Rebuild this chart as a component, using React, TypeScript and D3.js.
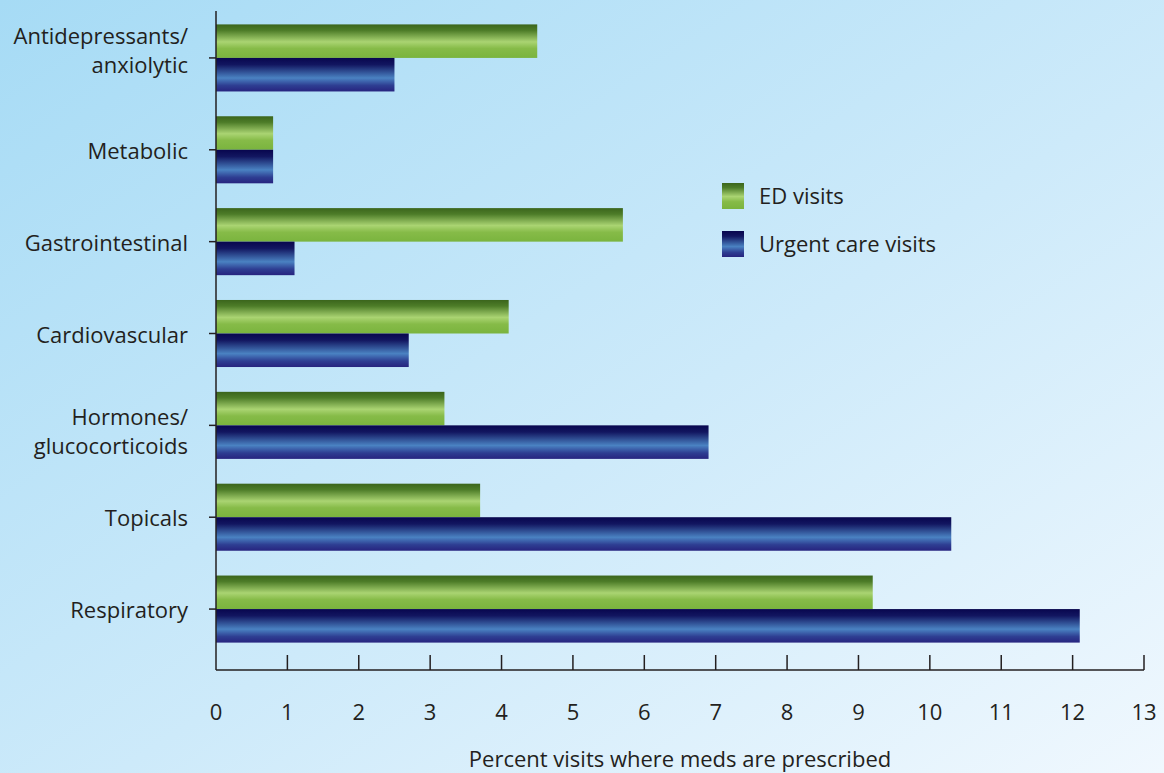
import React, { useEffect, useRef } from 'react';
import * as d3 from 'd3';

// categories, top to bottom (labels may wrap onto two lines)
const categories = [
  'Antidepressants/\nanxiolytic',
  'Metabolic',
  'Gastrointestinal',
  'Cardiovascular',
  'Hormones/\nglucocorticoids',
  'Topicals',
  'Respiratory',
];
const edVisits = [4.5, 0.8, 5.7, 4.1, 3.2, 3.7, 9.2];
const urgentCareVisits = [2.5, 0.8, 1.1, 2.7, 6.9, 10.3, 12.1];
const xTicks = [0, 1, 2, 3, 4, 5, 6, 7, 8, 9, 10, 11, 12, 13];
const seriesNames = ['ED visits', 'Urgent care visits'];

const W = 1164;
const H = 773;
const FONT = '"Open Sans", "Noto Sans", sans-serif';
const INK = '#231f20';
const FS = 22;

function drawChart(node: SVGSVGElement) {
  const svg = d3.select(node);
  svg.selectAll('*').remove();

  const defs = svg.append('defs');

  // page background, light blue fading toward the bottom right
  const bg = defs.append('linearGradient').attr('id', 'bg')
    .attr('x1', '0%').attr('y1', '0%').attr('x2', '100%').attr('y2', '100%');
  bg.append('stop').attr('offset', '0%').attr('stop-color', '#a6dbf5');
  bg.append('stop').attr('offset', '55%').attr('stop-color', '#cdeafa');
  bg.append('stop').attr('offset', '100%').attr('stop-color', '#f0f8fe');

  const green = defs.append('linearGradient').attr('id', 'greenBar')
    .attr('x1', 0).attr('y1', 0).attr('x2', 0).attr('y2', 1);
  green.append('stop').attr('offset', '0%').attr('stop-color', '#3b651c');
  green.append('stop').attr('offset', '18%').attr('stop-color', '#4d7c28');
  green.append('stop').attr('offset', '52%').attr('stop-color', '#aad472');
  green.append('stop').attr('offset', '72%').attr('stop-color', '#86bb48');
  green.append('stop').attr('offset', '100%').attr('stop-color', '#7ab43e');

  const blue = defs.append('linearGradient').attr('id', 'blueBar')
    .attr('x1', 0).attr('y1', 0).attr('x2', 0).attr('y2', 1);
  blue.append('stop').attr('offset', '0%').attr('stop-color', '#08064e');
  blue.append('stop').attr('offset', '20%').attr('stop-color', '#121660');
  blue.append('stop').attr('offset', '60%').attr('stop-color', '#4a82c2');
  blue.append('stop').attr('offset', '82%').attr('stop-color', '#2e3e92');
  blue.append('stop').attr('offset', '100%').attr('stop-color', '#27247f');

  svg.append('rect').attr('width', W).attr('height', H).attr('fill', 'url(#bg)');

  const x = d3.scaleLinear().domain([0, 13]).range([216, 1144]);
  const y = d3.scaleBand<string>()
    .domain(categories)
    .range([12, 655])
    .paddingInner(0.27)
    .paddingOuter(0.135);
  const sub = d3.scaleBand<string>()
    .domain(seriesNames)
    .range([0, y.bandwidth()]);

  const axisY = 670;
  const fills = ['url(#greenBar)', 'url(#blueBar)'];
  const series = [edVisits, urgentCareVisits];

  // bars
  series.forEach((vals, si) => {
    svg.append('g').selectAll('rect')
      .data(categories)
      .enter().append('rect')
      .attr('x', x(0))
      .attr('y', d => (y(d) as number) + (sub(seriesNames[si]) as number))
      .attr('width', (d, i) => x(vals[i]) - x(0))
      .attr('height', sub.bandwidth())
      .attr('fill', fills[si]);
  });

  // y axis
  const gy = svg.append('g');
  gy.append('line')
    .attr('x1', x(0)).attr('x2', x(0))
    .attr('y1', 11).attr('y2', axisY)
    .attr('stroke', INK).attr('stroke-width', 1.5);
  categories.forEach((c, ci) => {
    const cy = (y(c) as number) + y.bandwidth() / 2;
    gy.append('line')
      .attr('x1', x(0) - 7).attr('x2', x(0))
      .attr('y1', cy).attr('y2', cy)
      .attr('stroke', INK).attr('stroke-width', 1.5);
    const lines = c.split('\n');
    const t = gy.append('text')
      .attr('text-anchor', 'end')
      .attr('font-family', FONT)
      .attr('font-size', FS)
      .attr('fill', INK);
    // the two-line labels sit differently in the original: first one above the tick, second one on it
    const firstBase = lines.length > 1 ? (ci === 0 ? cy - 14 : cy) : cy + 9;
    lines.forEach((ln, li) => {
      t.append('tspan')
        .attr('x', 188)
        .attr('y', firstBase + li * 29)
        .text(ln);
    });
  });

  // x axis
  const gx = svg.append('g');
  gx.append('line')
    .attr('x1', x(0)).attr('x2', x(13))
    .attr('y1', axisY).attr('y2', axisY)
    .attr('stroke', INK).attr('stroke-width', 1.5);
  xTicks.forEach(v => {
    if (v > 0) {
      gx.append('line')
        .attr('x1', x(v)).attr('x2', x(v))
        .attr('y1', axisY - 15).attr('y2', axisY)
        .attr('stroke', INK).attr('stroke-width', 1.5);
    }
    gx.append('text')
      .attr('x', x(v))
      .attr('y', 720)
      .attr('text-anchor', 'middle')
      .attr('font-family', FONT)
      .attr('font-size', FS)
      .attr('fill', INK)
      .text(String(v));
  });

  svg.append('text')
    .attr('x', 680)
    .attr('y', 767)
    .attr('text-anchor', 'middle')
    .attr('font-family', FONT)
    .attr('font-size', FS)
    .attr('fill', INK)
    .text('Percent visits where meds are prescribed');

  // legend
  const legend = svg.append('g').attr('transform', 'translate(722,183)');
  seriesNames.forEach((name, i) => {
    legend.append('rect')
      .attr('x', 0).attr('y', i * 48)
      .attr('width', 22).attr('height', 26)
      .attr('fill', fills[i]);
    legend.append('text')
      .attr('x', 37).attr('y', i * 48 + 21)
      .attr('font-family', FONT)
      .attr('font-size', FS)
      .attr('fill', INK)
      .text(name);
  });
}

const App = () => {
  const ref = useRef<SVGSVGElement>(null);
  useEffect(() => {
    if (ref.current) drawChart(ref.current);
  }, []);
  return (
    <svg ref={ref} width={W} height={H}
      style={{ display: 'block', position: 'absolute', left: 0, top: 0 }} />
  );
};

export default App;
